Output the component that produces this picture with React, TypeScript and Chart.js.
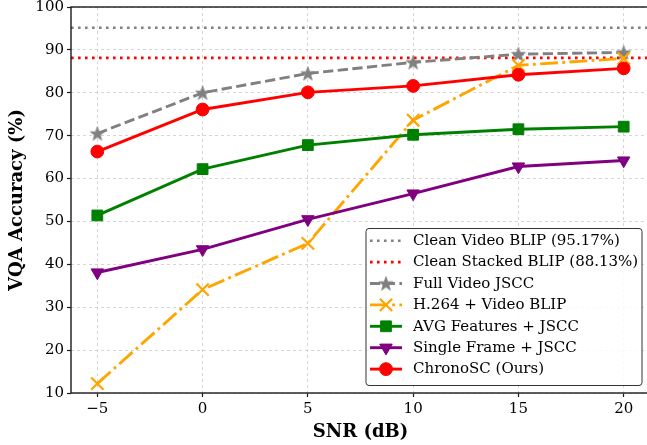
import { useEffect, useRef } from "react";
import { Chart, registerables } from "chart.js";

Chart.register(...registerables);

const snr = [-5, 0, 5, 10, 15, 20];
const fullVideoJscc = [70.5, 80.0, 84.5, 87.1, 89.0, 89.4];
const h264VideoBlip = [12.2, 34.1, 44.9, 73.6, 86.4, 88.0];
const avgFeatures = [51.4, 62.2, 67.8, 70.2, 71.5, 72.1];
const singleFrame = [38.1, 43.5, 50.5, 56.5, 62.8, 64.2];
const chronoSC = [66.3, 76.1, 80.1, 81.6, 84.2, 85.7];
const cleanVideoBlip = 95.17;
const cleanStackedBlip = 88.13;
const yTicks = [10, 20, 30, 40, 50, 60, 70, 80, 90, 100];

const X_MIN = -6.25;
const X_MAX = 21.25;
const SERIF = "'DejaVu Serif', serif";

const pts = (ys: number[]) => snr.map((x, i) => ({ x, y: ys[i] }));
const hline = (y: number) => [
  { x: X_MIN, y },
  { x: X_MAX, y },
];

function makeStar(color: string) {
  const c = document.createElement("canvas");
  c.width = 16;
  c.height = 16;
  const ctx = c.getContext("2d")!;
  ctx.beginPath();
  for (let i = 0; i < 10; i++) {
    const r = i % 2 === 0 ? 7.4 : 3.0;
    const a = -Math.PI / 2 + (i * Math.PI) / 5;
    const px = 8 + r * Math.cos(a);
    const py = 8.6 + r * Math.sin(a);
    if (i === 0) ctx.moveTo(px, py);
    else ctx.lineTo(px, py);
  }
  ctx.closePath();
  ctx.fillStyle = color;
  ctx.fill();
  ctx.strokeStyle = color;
  ctx.lineWidth = 0.8;
  ctx.stroke();
  return c;
}

function drawMarker(ctx: CanvasRenderingContext2D, ds: any, x: number, y: number) {
  const style = ds.pointStyle;
  const r = ds.pointRadius;
  if (style instanceof HTMLCanvasElement) {
    ctx.drawImage(style, x - style.width / 2, y - style.height / 2);
    return;
  }
  ctx.beginPath();
  if (style === "circle") {
    ctx.arc(x, y, r, 0, Math.PI * 2);
    ctx.fill();
    ctx.stroke();
  } else if (style === "rect") {
    const s = Math.SQRT1_2 * r;
    ctx.rect(x - s, y - s, 2 * s, 2 * s);
    ctx.fill();
    ctx.stroke();
  } else if (style === "triangle") {
    // pointing down
    for (let i = 0; i < 3; i++) {
      const a = Math.PI / 2 + (i * 2 * Math.PI) / 3;
      const px = x + r * Math.cos(a);
      const py = y + r * Math.sin(a);
      if (i === 0) ctx.moveTo(px, py);
      else ctx.lineTo(px, py);
    }
    ctx.closePath();
    ctx.fill();
    ctx.stroke();
  } else if (style === "crossRot") {
    const o = Math.cos(Math.PI / 4) * r;
    ctx.moveTo(x - o, y - o);
    ctx.lineTo(x + o, y + o);
    ctx.moveTo(x - o, y + o);
    ctx.lineTo(x + o, y - o);
    ctx.stroke();
  }
}

// frame (all four spines) + legend box in the lower right
const framePlugin = {
  id: "frameAndLegend",
  afterDraw(chart: any) {
    const { ctx, chartArea } = chart;
    ctx.save();
    ctx.strokeStyle = "#1a1a1a";
    ctx.lineWidth = 1.4;
    ctx.setLineDash([]);
    ctx.strokeRect(chartArea.left, chartArea.top, chartArea.right - chartArea.left, chartArea.bottom - chartArea.top);

    // legend
    const bx = 366, by = 228.5, bw = 276, bh = 157;
    ctx.beginPath();
    ctx.roundRect(bx, by, bw, bh, 3);
    ctx.fillStyle = "rgba(255,255,255,0.85)";
    ctx.fill();
    ctx.strokeStyle = "#333333";
    ctx.lineWidth = 1;
    ctx.stroke();

    chart.data.datasets.forEach((ds: any, row: number) => {
      const y = 240.7 + row * 21.4;
      ctx.save();
      ctx.strokeStyle = ds.borderColor;
      ctx.lineWidth = ds.borderWidth;
      ctx.setLineDash(ds.borderDash || []);
      ctx.beginPath();
      ctx.moveTo(370, y);
      ctx.lineTo(402, y);
      ctx.stroke();
      ctx.restore();
      if (ds.pointRadius > 0) {
        ctx.save();
        ctx.fillStyle = ds.pointBackgroundColor;
        ctx.strokeStyle = ds.pointBorderColor;
        ctx.lineWidth = ds.pointBorderWidth;
        drawMarker(ctx, ds, 386, y);
        ctx.restore();
      }
      ctx.fillStyle = "#000";
      ctx.font = `15px ${SERIF}`;
      ctx.textBaseline = "middle";
      ctx.textAlign = "left";
      ctx.fillText(ds.label, 413, y + 0.5);
    });
    ctx.restore();
  },
};

export default function App() {
  const canvasRef = useRef<HTMLCanvasElement | null>(null);
  const chartRef = useRef<Chart | null>(null);

  useEffect(() => {
    if (!canvasRef.current) return;
    chartRef.current?.destroy();

    const star = makeStar("#808080");

    chartRef.current = new Chart(canvasRef.current, {
      type: "line",
      data: {
        datasets: [
          {
            label: "Clean Video BLIP (95.17%)",
            data: hline(cleanVideoBlip),
            borderColor: "#808080",
            borderWidth: 2.6,
            borderDash: [2.6, 4.4],
            pointRadius: 0,
            order: 6,
          },
          {
            label: "Clean Stacked BLIP (88.13%)",
            data: hline(cleanStackedBlip),
            borderColor: "#ff0000",
            borderWidth: 2.6,
            borderDash: [2.6, 4.4],
            pointRadius: 0,
            order: 5,
          },
          {
            label: "Full Video JSCC",
            data: pts(fullVideoJscc),
            borderColor: "#808080",
            borderWidth: 2.9,
            borderDash: [10.3, 4.4],
            pointStyle: star,
            pointRadius: 7,
            pointBackgroundColor: "#808080",
            pointBorderColor: "#808080",
            pointBorderWidth: 1,
            order: 4,
          },
          {
            label: "H.264 + Video BLIP",
            data: pts(h264VideoBlip),
            borderColor: "#ffa500",
            borderWidth: 2.9,
            borderDash: [17.8, 4.4, 2.8, 4.4],
            pointStyle: "crossRot",
            pointRadius: 8.7,
            pointBackgroundColor: "#ffa500",
            pointBorderColor: "#ffa500",
            pointBorderWidth: 2.2,
            order: 3,
          },
          {
            label: "AVG Features + JSCC",
            data: pts(avgFeatures),
            borderColor: "#008000",
            borderWidth: 2.9,
            pointStyle: "rect",
            pointRadius: 7.6,
            pointBackgroundColor: "#008000",
            pointBorderColor: "#008000",
            pointBorderWidth: 1,
            order: 2,
          },
          {
            label: "Single Frame + JSCC",
            data: pts(singleFrame),
            borderColor: "#800080",
            borderWidth: 2.9,
            pointStyle: "triangle",
            pointRotation: 180,
            pointRadius: 7.2,
            pointBackgroundColor: "#800080",
            pointBorderColor: "#800080",
            pointBorderWidth: 1,
            order: 1,
          },
          {
            label: "ChronoSC (Ours)",
            data: pts(chronoSC),
            borderColor: "#ff0000",
            borderWidth: 2.9,
            pointStyle: "circle",
            pointRadius: 6.4,
            pointBackgroundColor: "#ff0000",
            pointBorderColor: "#ff0000",
            pointBorderWidth: 1,
            order: 0,
          },
        ],
      },
      options: {
        responsive: true,
        maintainAspectRatio: false,
        animation: false,
        layout: { autoPadding: false, padding: { top: 7, right: 10, left: 0, bottom: 0 } },
        plugins: {
          legend: { display: false },
          tooltip: { enabled: false },
        },
        elements: { line: { tension: 0 } },
        scales: {
          x: {
            type: "linear",
            min: X_MIN,
            max: X_MAX,
            afterBuildTicks: (s: any) => {
              s.ticks = snr.map((v) => ({ value: v }));
            },
            afterFit: (s: any) => {
              s.height = 52;
              s.paddingLeft = 0;
              s.paddingRight = 0;
            },
            grid: {
              color: "#cccccc",
              lineWidth: 0.8,
              tickColor: "#1a1a1a",
              tickLength: 4,
              tickWidth: 1.2,
            },
            border: { display: false, dash: [3, 3] },
            ticks: {
              color: "#000",
              padding: 3,
              font: { family: SERIF, size: 15 },
              callback: (v: any) => (v < 0 ? "\u2212" + Math.abs(v) : String(v)),
            },
            title: {
              display: true,
              text: "SNR (dB)",
              color: "#000",
              font: { family: SERIF, size: 18, weight: "bold" },
              padding: { top: 0, bottom: 2 },
            },
          },
          y: {
            min: 10,
            max: 100,
            afterBuildTicks: (s: any) => {
              s.ticks = yTicks.map((v) => ({ value: v }));
            },
            afterFit: (s: any) => {
              s.width = 71;
              s.paddingTop = 0;
              s.paddingBottom = 0;
            },
            grid: {
              color: "#cccccc",
              lineWidth: 0.8,
              tickColor: "#1a1a1a",
              tickLength: 4,
              tickWidth: 1.2,
            },
            border: { display: false, dash: [3, 3] },
            ticks: {
              color: "#000",
              padding: 3,
              font: { family: SERIF, size: 15 },
            },
            title: {
              display: true,
              text: "VQA Accuracy (%)",
              color: "#000",
              font: { family: SERIF, size: 18, weight: "bold" },
              padding: { top: 7, bottom: 0 },
            },
          },
        },
      },
      plugins: [framePlugin],
    });

    return () => chartRef.current?.destroy();
  }, []);

  return (
    <div style={{ position: "fixed", left: 0, top: 0, width: 660, height: 445, background: "#fff" }}>
      <canvas ref={canvasRef} />
    </div>
  );
}
